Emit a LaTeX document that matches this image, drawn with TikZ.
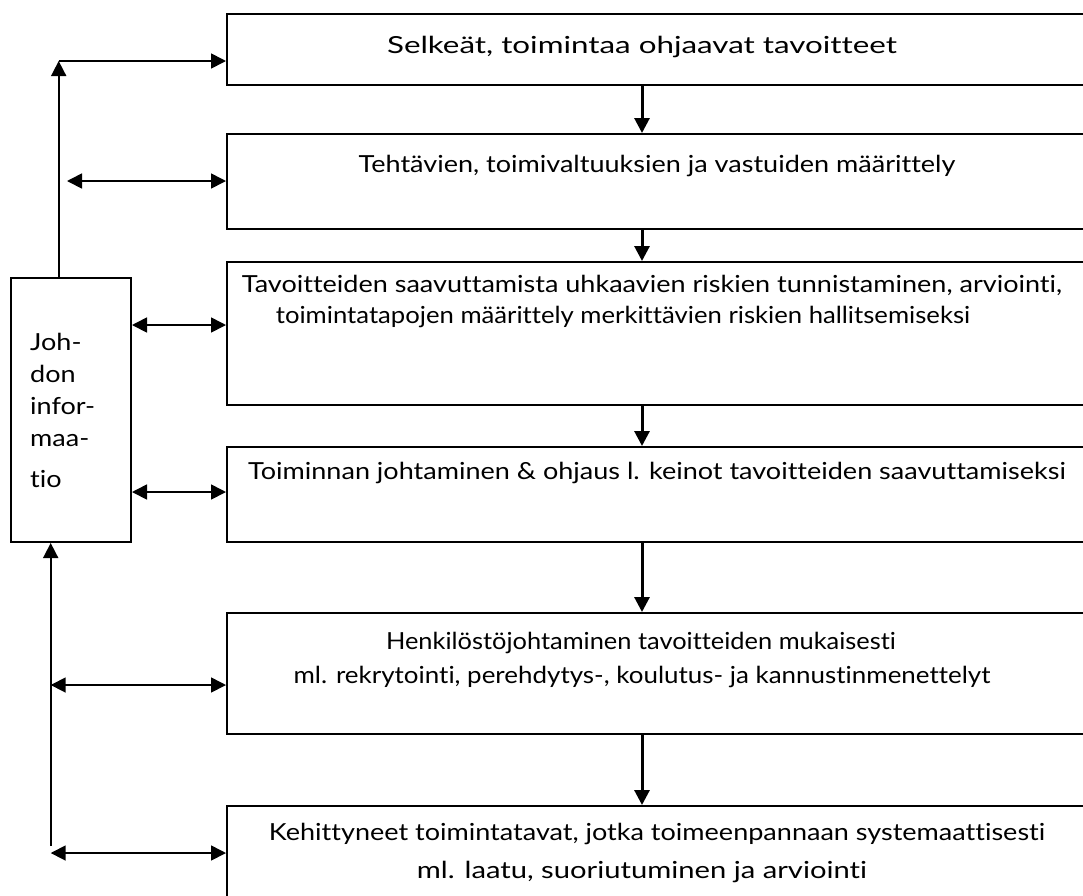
\documentclass[tikz,border=0pt]{standalone}
\usepackage{graphicx}
\usepackage{fontspec}
\setmainfont{Lato}[FakeStretch=1.15, Ligatures={NoCommon}]
\usetikzlibrary{arrows.meta}
\begin{document}
\begin{tikzpicture}[x=1pt,y=-1pt,
  boxst/.style={draw, line width=2pt, minimum width=880pt, anchor=north west, inner sep=0pt},
  jbox/.style={draw, line width=2pt, minimum width=120pt, minimum height=264pt, anchor=north west, inner sep=0pt},
  lbl/.style={font=\fontsize{23.5}{32}\selectfont, inner sep=0pt, anchor=base},
  flow/.style={line width=3pt, -{Triangle[length=15pt,width=15pt]}},
  link/.style={line width=1.7pt, {Triangle[length=15pt,width=15pt]}-{Triangle[length=15pt,width=15pt]}},
  onelink/.style={line width=1.7pt, -{Triangle[length=15pt,width=15pt]}}]
\useasboundingbox (0,0) rectangle (1083,895);
\clip (0,0) rectangle (1083,895);
\fill[white] (0,0) rectangle (1083,895);
% boxes
\node[boxst, minimum height=71pt]  (b1) at (226,13)  {};
\node[boxst, minimum height=95pt]  (b2) at (226,133) {};
\node[boxst, minimum height=143pt] (b3) at (226,261) {};
\node[boxst, minimum height=95pt]  (b4) at (226,446) {};
\node[boxst, minimum height=121pt] (b5) at (226,612) {};
\node[boxst, minimum height=100pt] (b6) at (226,805) {};
\node[jbox] (j) at (10,277) {};
% texts
\node[lbl] (t1) at (642,53) {\scalebox{1.16}[1]{Selkeät, toimintaa ohjaavat tavoitteet}};
\node[lbl] (t2) at (657,172) {Tehtävien, toimivaltuuksien ja vastuiden määrittely};
\node[lbl] (t3a) at (652,292) {Tavoitteiden saavuttamista uhkaavien riskien tunnistaminen, arviointi,};
\node[lbl] (t3b) at (623,323) {\scalebox{0.95}[1]{toimintatapojen määrittely merkittävien riskien hallitsemiseksi}};
\node[lbl] (t4) at (657,479) {Toiminnan johtaminen \& ohjaus l. keinot tavoitteiden saavuttamiseksi};
\node[lbl] (t5a) at (641,649) {\scalebox{0.94}[1]{Henkilöstöjohtaminen tavoitteiden mukaisesti}};
\node[lbl] (t5b) at (642,683) {\scalebox{0.96}[1]{ml. rekrytointi, perehdytys-, koulutus- ja kannustinmenettelyt}};
\node[lbl] (t6a) at (657,840) {Kehittyneet toimintatavat, jotka toimeenpannaan systemaattisesti};
\node[lbl] (t6b) at (642,878) {\scalebox{1.08}[1]{ml. laatu, suoriutuminen ja arviointi}};
\node[font=\fontsize{23.5}{32}\selectfont, inner sep=0pt, anchor=base west, align=left] (jt) at (30,487)
  {Joh-\\don\\infor-\\maa-\\[9pt]tio};
% flow arrows
\coordinate (ax) at (642,0);
\draw[flow] (b1.south -| ax) -- (b2.north -| ax);
\draw[flow] (b2.south -| ax) -- (b3.north -| ax);
\draw[flow] (b3.south -| ax) -- (b4.north -| ax);
\draw[flow] (b4.south -| ax) -- (b5.north -| ax);
\draw[flow] (b5.south -| ax) -- (b6.north -| ax);
% left connectors
\coordinate (top) at (58.7,61);
\draw[onelink] (j.north -| top) -- (top);
\draw[onelink] (top) -- (top -| b1.west);
\coordinate (l2) at (67,181);
\draw[link] (l2) -- (l2 -| b2.west);
\coordinate (l3) at (130,325);
\draw[link] (j.east |- l3) -- (l3 -| b3.west);
\coordinate (l4) at (130,492);
\draw[link] (j.east |- l4) -- (l4 -| b4.west);
\coordinate (bot) at (50.7,846);
\draw[onelink] (bot) -- (bot |- j.south);
\coordinate (l5) at (50.7,685);
\draw[link] (l5) -- (l5 -| b5.west);
\coordinate (l6) at (50.7,853);
\draw[link] (l6) -- (l6 -| b6.west);
\end{tikzpicture}
\end{document}
